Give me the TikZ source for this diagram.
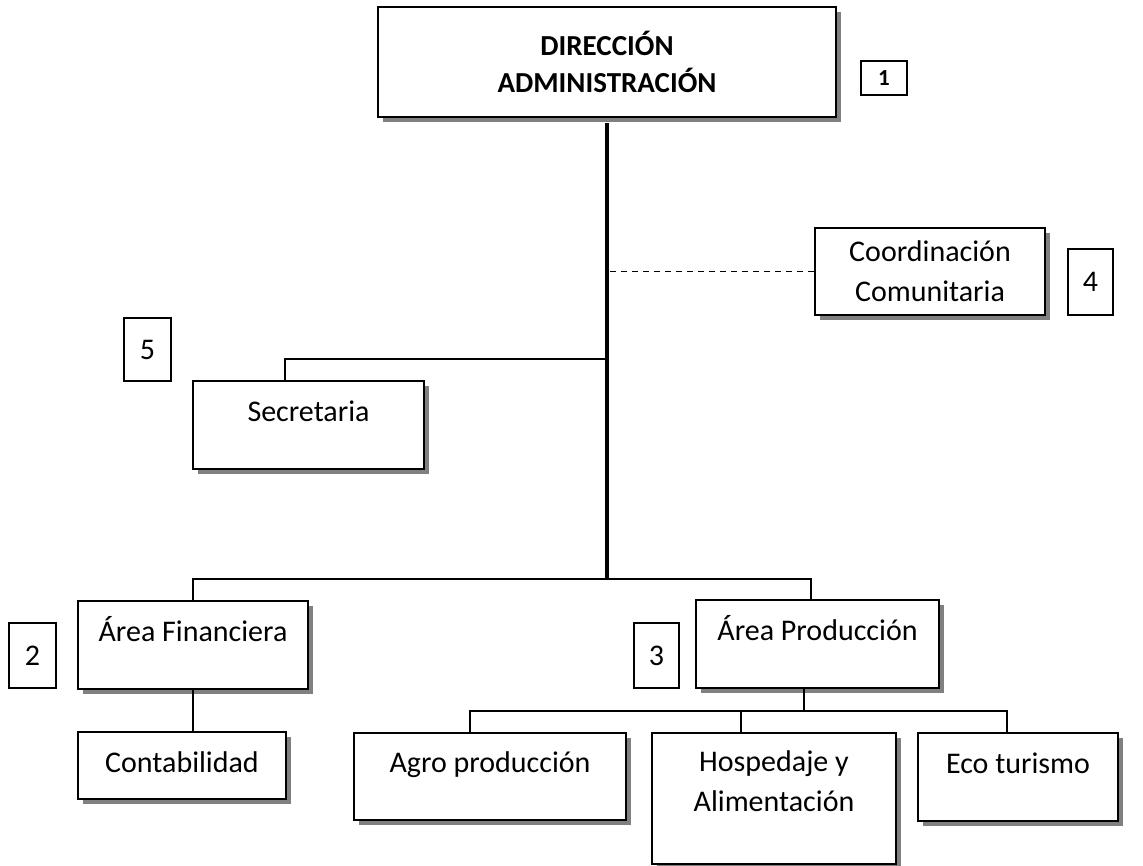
\documentclass[tikz,border=0pt]{standalone}
\usepackage{fontspec}
\setmainfont{Carlito}
\usetikzlibrary{shadows,calc}

\tikzset{
  caja/.style={draw,line width=2.2pt,fill=white,inner sep=0pt,
    font=\fontsize{30}{40}\selectfont,
    drop shadow={shadow xshift=5pt,shadow yshift=-5pt,fill=gray,opacity=1}},
  arriba/.style={text height=22pt,text depth=30pt},
  numero/.style={draw,line width=1.4pt,inner sep=0pt,font=\fontsize{30}{35}\selectfont},
  linea/.style={line width=2pt},
}

\begin{document}
\begin{tikzpicture}[x=1pt,y=-1pt]
  \useasboundingbox (0,0) rectangle (1143,866);
  \node[caja,minimum width=458,minimum height=110,align=center,
    font=\bfseries\fontsize{29}{37}\selectfont] (dir) at (607,62) {DIRECCIÓN\\ADMINISTRACIÓN};
  \node[numero,minimum width=46,minimum height=34,font=\bfseries\fontsize{23}{28}\selectfont] (n1) at (884,78) {1};
  \node[caja,minimum width=230,minimum height=87,align=center] (coord) at (930,271.5) {Coordinación\\Comunitaria};
  \node[numero,minimum width=45,minimum height=66] (n4) at (1090.5,282) {4};
  \node[numero,minimum width=47,minimum height=63] (n5) at (147.5,349.5) {5};
  \node[caja,arriba,minimum width=231,minimum height=88] (sec) at (308.5,425) {Secretaria};
  \node[caja,arriba,minimum width=230,minimum height=88] (fin) at (193,645) {Área Financiera};
  \node[numero,minimum width=47,minimum height=65] (n2) at (32.5,655.5) {2};
  \node[caja,text height=22pt,text depth=8pt,minimum width=208,minimum height=67] (cont) at (182,765.5) {Contabilidad};
  \node[caja,arriba,minimum width=243,minimum height=88] (prod) at (817.5,644) {Área Producción};
  \node[numero,minimum width=45,minimum height=65] (n3) at (656.5,655.5) {3};
  \node[caja,arriba,minimum width=272,minimum height=87] (agro) at (490,776.5) {Agro producción};
  \node[caja,align=center,text depth=34pt,minimum width=244,minimum height=131] (hosp) at (774,798.5) {Hospedaje y\\Alimentación};
  \node[caja,arriba,minimum width=200,minimum height=88] (eco) at (1018,777) {Eco turismo};

  \coordinate (rama) at (607,579);
  \coordinate (sub) at (804,711);
  \draw[line width=4.5pt] ([yshift=-5pt]dir.south) -- (rama);
  \draw[line width=1.5pt,dash pattern=on 6pt off 5pt] ([xshift=3pt]dir.south |- coord.west) -- (coord.west);
  \draw[linea] (dir.south |- 0,359) -| ([xshift=-23.5pt]sec.north);
  \draw[linea] (fin.north) |- (rama) -| ([xshift=-6.5pt]prod.north);
  \draw[linea] (fin.south) -- (fin.south |- cont.north);
  \draw[linea] ([xshift=-13.5pt]prod.south) -- (sub);
  \draw[linea] (sub) -| ([xshift=-20pt]agro.north);
  \draw[linea] (sub) -| ([xshift=-33pt]hosp.north);
  \draw[linea] (sub) -| ([xshift=-11pt]eco.north);
\end{tikzpicture}
\end{document}
